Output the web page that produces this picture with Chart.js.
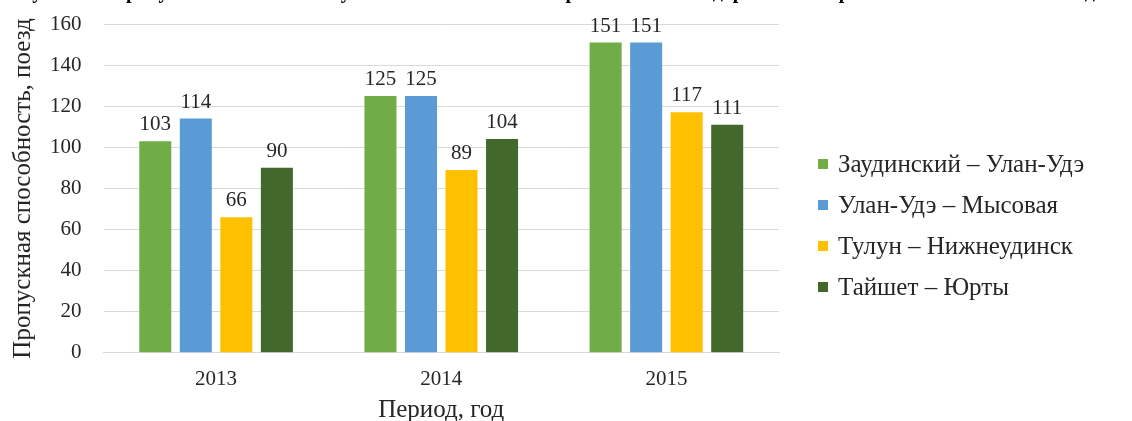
<!DOCTYPE html>
<html>
<head>
<meta charset="utf-8">
<script src="https://cdn.jsdelivr.net/npm/chart.js@4.4.0/dist/chart.umd.min.js"></script>
<style>
  html, body { margin: 0; padding: 0; background: #fff; }
  #wrap { position: relative; width: 1132px; height: 421px; overflow: hidden; }
  #cap { position: absolute; left: 0; top: -20px; width: 1132px; white-space: nowrap;
         font: bold 20px 'Liberation Serif', serif; color: #000; }
</style>
</head>
<body>
<div id="wrap">
  <div id="cap">Рисунок 3 – Пропускная способность участков Восточно-Сибирской железной дороги на направлении Тайшет – Улан-Удэ</div>
  <canvas id="chart"></canvas>
</div>
<script>
const years = ['2013', '2014', '2015'];
const zaudUlan = [103, 125, 151];
const ulanMys = [114, 125, 151];
const tulunNizh = [66, 89, 117];
const taishetYurty = [90, 104, 111];
const yTicks = [0, 20, 40, 60, 80, 100, 120, 140, 160];

const serif = "'Liberation Serif', 'Times New Roman', serif";

// numbers above the bars
const valueLabels = {
    id: 'valueLabels',
    afterDatasetsDraw(chart) {
        const ctx = chart.ctx;
        ctx.save();
        ctx.font = '21px ' + serif;
        ctx.fillStyle = '#262626';
        ctx.textAlign = 'center';
        ctx.textBaseline = 'bottom';
        chart.data.datasets.forEach((ds, i) => {
            chart.getDatasetMeta(i).data.forEach((bar, j) => {
                ctx.fillText(ds.data[j], bar.x, bar.y - 6);
            });
        });
        ctx.restore();
    }
};

// legend on the right, drawn from the datasets
const sideLegend = {
    id: 'sideLegend',
    afterDraw(chart) {
        const ctx = chart.ctx;
        const x = chart.chartArea.right + 39;
        const y0 = 164, step = 41;
        ctx.save();
        ctx.font = '25px ' + serif;
        ctx.textBaseline = 'middle';
        ctx.textAlign = 'left';
        chart.data.datasets.forEach((ds, i) => {
            const y = y0 + i * step;
            ctx.fillStyle = ds.backgroundColor;
            ctx.fillRect(x, y - 5, 10, 10);
            ctx.fillStyle = '#262626';
            ctx.fillText(ds.label, x + 20, y + 1);
        });
        ctx.restore();
    }
};

new Chart(document.getElementById('chart').getContext('2d'), {
    type: 'bar',
    data: {
        labels: years,
        datasets: [
            { label: 'Заудинский – Улан-Удэ', data: zaudUlan, backgroundColor: '#70ad47' },
            { label: 'Улан-Удэ – Мысовая', data: ulanMys, backgroundColor: '#5b9bd5' },
            { label: 'Тулун – Нижнеудинск', data: tulunNizh, backgroundColor: '#ffc000' },
            { label: 'Тайшет – Юрты', data: taishetYurty, backgroundColor: '#43682b' }
        ]
    },
    options: {
        responsive: true,
        maintainAspectRatio: false,
        animation: false,
        categoryPercentage: 0.72,
        barPercentage: 0.79,
        layout: { padding: { top: 24, right: 353, left: 8, bottom: -2 } },
        plugins: {
            tooltip: { enabled: false },
            legend: { display: false }
        },
        scales: {
            x: {
                grid: { display: false },
                border: { color: '#d9d9d9' },
                ticks: { color: '#262626', font: { family: serif, size: 21 }, padding: 6 },
                title: { display: true, text: 'Период, год', color: '#262626',
                         font: { family: serif, size: 25, lineHeight: 1 }, padding: { top: 0, bottom: 0 } }
            },
            y: {
                min: 0, max: 160,
                afterBuildTicks(axis) { axis.ticks = yTicks.map(v => ({ value: v })); },
                grid: { color: '#d9d9d9', tickLength: 12, tickColor: 'rgba(0,0,0,0)' },
                border: { display: false },
                ticks: { color: '#262626', font: { family: serif, size: 21 }, padding: 10 },
                title: { display: true, text: 'Пропускная способность, поезд', color: '#262626',
                         font: { family: serif, size: 25 }, padding: { top: 0, bottom: 2 } }
            }
        }
    },
    plugins: [valueLabels, sideLegend]
});
</script>
</body>
</html>
